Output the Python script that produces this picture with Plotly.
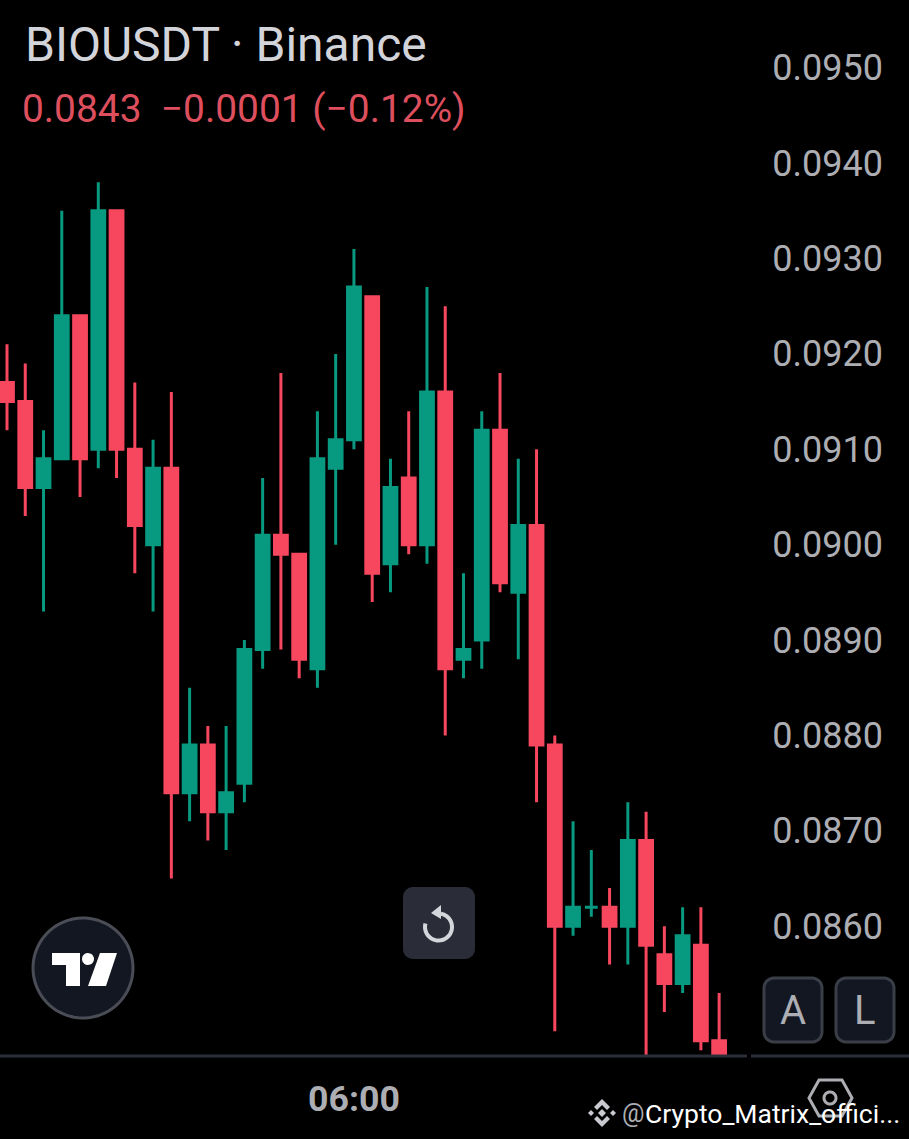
import numpy as np
import pandas as pd
import plotly.graph_objects as go

# hourly candles
open_ = [0.0917, 0.0915, 0.0906, 0.0909, 0.0924, 0.0910, 0.0935, 0.0910, 0.0900, 0.0908,
         0.0874, 0.0879, 0.0872, 0.0875, 0.0889, 0.0901, 0.0899, 0.0887, 0.0908, 0.0911,
         0.0926, 0.0898, 0.0907, 0.0900, 0.0916, 0.0888, 0.0890, 0.0912, 0.0895, 0.0902,
         0.0879, 0.0860, 0.0862, 0.0862, 0.0860, 0.0869, 0.0857, 0.0854, 0.0858, 0.0848]
high = [0.0921, 0.0919, 0.0912, 0.0935, 0.0924, 0.0938, 0.0935, 0.0917, 0.0911, 0.0916,
        0.0885, 0.0881, 0.0881, 0.0890, 0.0907, 0.0918, 0.0899, 0.0914, 0.0920, 0.0931,
        0.0926, 0.0909, 0.0914, 0.0927, 0.0925, 0.0897, 0.0914, 0.0918, 0.0909, 0.0910,
        0.0880, 0.0871, 0.0868, 0.0864, 0.0873, 0.0872, 0.0860, 0.0862, 0.0862, 0.0853]
low = [0.0912, 0.0903, 0.0893, 0.0909, 0.0905, 0.0908, 0.0907, 0.0897, 0.0893, 0.0865,
       0.0871, 0.0869, 0.0868, 0.0873, 0.0887, 0.0889, 0.0886, 0.0885, 0.0900, 0.0910,
       0.0894, 0.0895, 0.0899, 0.0898, 0.0880, 0.0886, 0.0887, 0.0895, 0.0888, 0.0873,
       0.0849, 0.0859, 0.0861, 0.0856, 0.0856, 0.0846, 0.0851, 0.0853, 0.0847, 0.0843]
close = [0.0915, 0.0906, 0.0909, 0.0924, 0.0909, 0.0935, 0.0910, 0.0902, 0.0908, 0.0874,
         0.0879, 0.0872, 0.0874, 0.0889, 0.0901, 0.0899, 0.0888, 0.0909, 0.0911, 0.0927,
         0.0897, 0.0906, 0.0900, 0.0916, 0.0887, 0.0889, 0.0912, 0.0896, 0.0902, 0.0879,
         0.0860, 0.0862, 0.0862, 0.0860, 0.0869, 0.0858, 0.0854, 0.0859, 0.0848, 0.0843]
price_ticks = [0.0860, 0.0870, 0.0880, 0.0890, 0.0900, 0.0910, 0.0920, 0.0930, 0.0940, 0.0950]
times = pd.date_range("2025-03-01 11:00", periods=len(close), freq="h")
time_tick = pd.Timestamp("2025-03-02 06:00")

W, H = 909, 1139
PLOT_B = 1055
UP, DOWN = "#089981", "#F7475E"
BG = "#000000"
GREY = "#ADAEB3"
MARK = "#C8CAD0"


def px(x):
    return x / W


def py(y):
    return 1 - y / PLOT_B


def poly(points, close_it=True):
    path = "M " + " L ".join(f"{px(x):.5f},{py(y):.5f}" for x, y in points)
    return path + (" Z" if close_it else "")


def shape_path(points, fill=None, line=None, width=0, close_it=True):
    return dict(type="path", xref="paper", yref="paper", path=poly(points, close_it),
                fillcolor=fill if fill else "rgba(0,0,0,0)",
                line=dict(color=line if line else "rgba(0,0,0,0)", width=width))


def round_rect(x0, y0, x1, y1, r):
    pts = []
    for cx, cy, start in [(x1 - r, y0 + r, -90), (x1 - r, y1 - r, 0), (x0 + r, y1 - r, 90), (x0 + r, y0 + r, 180)]:
        for a in np.radians(np.linspace(start, start + 90, 8)):
            pts.append((cx + r * np.cos(a), cy + r * np.sin(a)))
    return pts


def arc(cx, cy, rx, ry, a0, a1, n=40):
    return [(cx + rx * np.cos(a), cy + ry * np.sin(a)) for a in np.radians(np.linspace(a0, a1, n))]


def label(x, y, text, size, color, anchor="left", weight=400):
    return dict(x=px(x), y=py(y), xref="paper", yref="paper", text=text, showarrow=False,
                xanchor=anchor, yanchor="middle", align=anchor,
                font=dict(family="Roboto", size=size, color=color, weight=weight))


fig = go.Figure(go.Candlestick(
    x=times, open=open_, high=high, low=low, close=close,
    increasing=dict(line=dict(color=UP, width=3), fillcolor=UP),
    decreasing=dict(line=dict(color=DOWN, width=3), fillcolor=DOWN),
    whiskerwidth=0,
))

shapes = [
    # bottom axis line with its small gap
    dict(type="line", xref="paper", yref="paper", x0=0, x1=px(747), y0=py(1056), y1=py(1056),
         line=dict(color="#2A2E39", width=3)),
    dict(type="line", xref="paper", yref="paper", x0=px(751), x1=1, y0=py(1056), y1=py(1056),
         line=dict(color="#2A2E39", width=3)),
    # TradingView badge
    shape_path(arc(83, 968, 50, 50, 0, 360, 80), fill="#131722", line="#4A4D55", width=3),
    shape_path([(52, 953), (80, 953), (80, 986), (66, 986), (66, 965), (52, 965)], fill="#FFFFFF"),
    shape_path(arc(88, 959, 6, 6, 0, 360, 24), fill="#FFFFFF"),
    shape_path([(100, 953), (117, 953), (106, 986), (88, 986)], fill="#FFFFFF"),
    # reload button
    shape_path(round_rect(403, 887, 475, 959, 10), fill="#2A2D37"),
    shape_path(arc(438.5, 927, 13.5, 13.5, -80, 195), line="#D4D6DC", width=4, close_it=False),
    shape_path([(441, 905), (441, 919), (431, 913)], fill="#D4D6DC"),
    # A / L buttons
    shape_path(round_rect(764, 978, 822, 1042, 10), fill="#131722", line="#3A3E47", width=3),
    shape_path(round_rect(836, 978, 894, 1042, 10), fill="#131722", line="#3A3E47", width=3),
    # gear hexagon under the watermark
    shape_path([(819, 1080), (842, 1080), (852, 1098), (842, 1116), (819, 1116), (809, 1098)],
               line=GREY, width=3),
    shape_path(arc(830, 1098, 6, 6, 0, 360, 30), line=GREY, width=3),
    # binance mark in the watermark
    shape_path([(602, 1099), (610, 1107), (607, 1110), (602, 1105), (597, 1110), (594, 1107)], fill=MARK),
    shape_path([(602, 1127), (610, 1119), (607, 1116), (602, 1121), (597, 1116), (594, 1119)], fill=MARK),
]
for cx, cy, r in [(602, 1113, 4), (591, 1113, 3), (613, 1113, 3)]:
    shapes.append(shape_path([(cx, cy - r), (cx + r, cy), (cx, cy + r), (cx - r, cy)], fill=MARK))

annotations = [
    label(23, 45, "BIOUSDT · Binance", 48, "#D3D4DA"),
    label(20, 109, "0.0843  −0.0001 (−0.12%)", 38.9, "#DE4F5E"),
    label(793, 1010, "A", 40, GREY, "center"),
    label(865, 1010, "L", 40, GREY, "center"),
    label(620, 1113, "@", 25, GREY),
    label(643, 1113, "Crypto_Matrix_offici...", 26.5, "#FFFFFF"),
]

x_start = times[0] - pd.Timedelta(hours=7 / 18.26)
x_end = times[0] + pd.Timedelta(hours=(W - 7) / 18.26)

fig.update_layout(
    width=W, height=H, autosize=False,
    margin=dict(l=0, r=0, t=0, b=H - PLOT_B),
    paper_bgcolor=BG, plot_bgcolor=BG,
    showlegend=False,
    boxgap=0.3, boxgroupgap=0,
    shapes=shapes, annotations=annotations,
    xaxis=dict(type="date", range=[x_start, x_end], rangeslider=dict(visible=False),
               showgrid=False, zeroline=False, showline=False,
               tickvals=[time_tick], tickformat="%H:%M",
               ticks="outside", ticklen=12, tickcolor="rgba(0,0,0,0)",
               tickfont=dict(family="Roboto", size=35.7, color=GREY, weight=700)),
    yaxis=dict(side="right", range=[0.08465, 0.09571], tickvals=price_ticks, tickformat=".4f",
               showgrid=False, zeroline=False, showline=False,
               ticklabelposition="inside", ticklabelstandoff=23, ticks="",
               tickfont=dict(family="Roboto", size=36, color=GREY)),
)

fig.write_html("out.html", config=dict(displayModeBar=False),
               post_script="document.body.style.margin='0';document.body.style.background='#000';")
